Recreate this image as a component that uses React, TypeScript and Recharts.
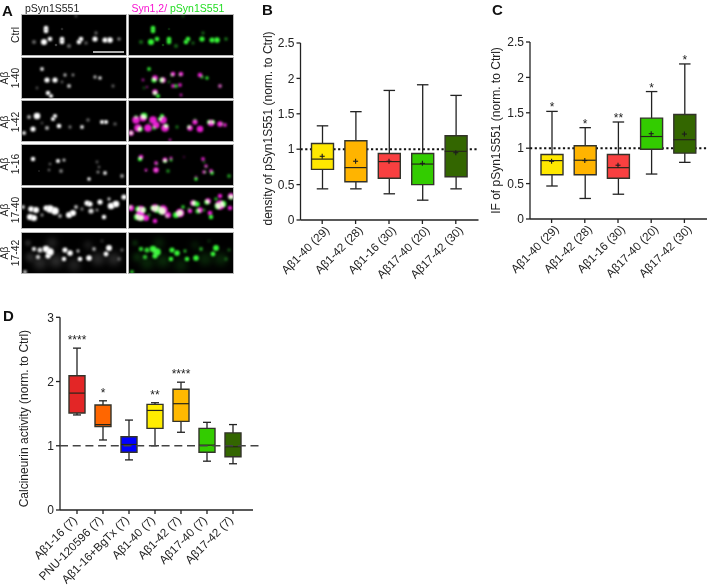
import {
  Bar,
  Cell,
  ComposedChart,
  LabelList,
  Line,
  ReferenceLine,
  Scatter,
  ScatterChart,
  XAxis,
  YAxis,
} from "recharts";

const FONT = "'Liberation Sans', Arial, sans-serif";
const INK = "#222222";

// panel B
const bNames = ["Aβ1-40 (29)", "Aβ1-42 (28)", "Aβ1-16 (30)", "Aβ17-40 (20)", "Aβ17-42 (30)"];
const bMin = [0.44, 0.44, 0.37, 0.28, 0.44];
const bQ1 = [0.715, 0.54, 0.59, 0.5, 0.61];
const bMedian = [0.86, 0.74, 0.825, 0.79, 0.97];
const bQ3 = [1.08, 1.12, 0.94, 0.94, 1.19];
const bMax = [1.33, 1.53, 1.83, 1.91, 1.76];
const bMean = [0.9, 0.83, 0.83, 0.8, 0.95];

// panel C
const cNames = ["Aβ1-40 (29)", "Aβ1-42 (28)", "Aβ1-16 (30)", "Aβ17-40 (20)", "Aβ17-42 (30)"];
const cMin = [0.466, 0.29, 0.35, 0.635, 0.8];
const cQ1 = [0.625, 0.625, 0.575, 0.985, 0.93];
const cMedian = [0.825, 0.83, 0.725, 1.165, 1.12];
const cQ3 = [0.91, 1.035, 0.91, 1.425, 1.475];
const cMax = [1.52, 1.29, 1.37, 1.8, 2.19];
const cMean = [0.815, 0.825, 0.76, 1.205, 1.2];
const cStars = ["*", "*", "**", "*", "*"];

// panel D
const dNames = [
  "Aβ1-16 (7)",
  "PNU-120596 (7)",
  "Aβ1-16+BgTx (7)",
  "Aβ1-40 (7)",
  "Aβ1-42 (7)",
  "Aβ17-40 (7)",
  "Aβ17-42 (7)",
];
const dMin = [1.48, 1.09, 0.78, 1.0, 1.21, 0.76, 0.72];
const dQ1 = [1.51, 1.3, 0.9, 1.27, 1.38, 0.9, 0.83];
const dMedian = [1.82, 1.33, 1.02, 1.55, 1.655, 1.01, 0.985];
const dQ3 = [2.09, 1.635, 1.14, 1.645, 1.88, 1.27, 1.2];
const dMax = [2.52, 1.7, 1.4, 1.67, 1.99, 1.365, 1.33];
const dStars = ["****", "*", "", "**", "****", "", ""];

const fiveColors = ["#FFE800", "#FFB400", "#F94040", "#33CC00", "#336600"];
const sevenColors = ["#E32626", "#FF6600", "#0000FF", "#FFED00", "#FFB900", "#33CC00", "#336600"];

const yTicks25 = [0, 0.5, 1, 1.5, 2, 2.5];
const yTicks3 = [0, 1, 2, 3];

// panel A: puncta in each micrograph, [x, y, radius, brightness]
type Spot = number[];
const ctrlSpots: Spot[] = [
  [24, 13, 2, 1], [24, 16, 2, 1], [22, 27, 2.6, 1], [28, 24, 2, 1], [40, 24, 2, 1], [40, 27, 2, 1], [57, 27, 2, 1], [59, 24, 2, 1], [73, 24, 2.2, 1],
  [83, 25, 2.2, 1], [88, 25, 2.4, 1], [74, 18, 1.4, 0.4], [47, 31, 1.8, 0.4], [12, 27, 1.8, 0.4],
  [97, 24, 1.5, 0.5], [54, 1, 1.2, 0.3], [64, 28, 1.5, 0.35], [34, 30, 1.3, 0.25], [40, 14, 1.3, 0.15],
];
const a140Spots: Spot[] = [
  [20, 11, 1.6, 0.9], [25, 22, 2.2, 1], [33, 22, 2.2, 1], [43, 17, 1.4, 0.7], [51, 17, 1.2, 0.55], [73, 19, 1.4, 0.7],
  [78, 20, 1.5, 0.9], [47, 28, 1.7, 0.75], [26, 35, 1.9, 1], [29, 38, 1.7, 1], [91, 28, 1.4, 0.35], [15, 30, 1.2, 0.3], [40, 24, 1.2, 0.35],
];
const a140Syn: Spot[] = [
  [26, 20, 2.4, 1], [34, 22, 2.4, 1], [44, 16, 2, 1], [52, 16, 2, 1], [71, 17, 2, 1], [44, 28, 1.6, 0.9], [51, 27, 1.6, 0.9],
  [26, 34, 2.4, 1], [14, 22, 1.2, 0.7], [52, 37, 1.2, 0.8], [91, 28, 1.6, 0.8], [18, 29, 1, 0.6],
];
const a142Spots: Spot[] = [
  [15, 15, 2.8, 1], [7, 16, 1.7, 0.65], [33, 15, 1.8, 1], [31, 18, 1.8, 1], [37, 25, 2, 1], [11, 28, 2.2, 1], [25, 27, 1.7, 0.7], [60, 26, 1.6, 0.9],
  [80, 21, 1.8, 1], [84, 21, 1.8, 1], [66, 19, 1.5, 0.4], [2, 32, 1.7, 0.9], [48, 26, 1.4, 0.45], [93, 23, 1.5, 0.35], [20, 22, 1.5, 0.25],
];
const a142Syn: Spot[] = [
  [7, 19, 3.2, 1], [14, 17, 3, 1], [24, 19, 3.2, 1], [34, 19, 3.2, 1], [9, 27, 3.2, 1], [19, 27, 3.2, 1], [36, 27, 3.2, 1], [27, 24, 3, 1],
  [2, 32, 2.4, 1], [61, 27, 2.4, 1], [71, 28, 2.8, 1], [66, 21, 2.2, 1], [82, 22, 2.8, 1], [91, 23, 2.4, 1], [96, 24, 1.6, 0.9], [41, 39, 1.2, 0.8],
];
const a116Spots: Spot[] = [
  [11, 14, 1.9, 1], [36, 16, 1.8, 1], [42, 15, 1.3, 0.8], [28, 19, 1.1, 0.4], [27, 25, 1.1, 0.45], [39, 26, 1.6, 0.5], [67, 34, 1.5, 1],
  [83, 28, 1.6, 0.9], [76, 27, 1.3, 0.55], [75, 17, 1.2, 0.35], [77, 22, 1.1, 0.4], [100, 31, 1.6, 0.6], [17, 26, 1, 0.12],
];
const a116Syn: Spot[] = [
  [12, 12, 2, 1], [36, 15, 2.1, 1], [42, 13, 1.3, 0.9], [27, 25, 2.4, 1], [17, 25, 1.3, 0.9], [27, 18, 1.6, 0.9], [74, 14, 1.6, 0.9],
  [77, 21, 1.5, 0.9], [75, 27, 1.5, 0.9], [82, 26, 1.6, 0.9], [67, 32, 1.3, 0.5], [55, 12, 0.8, 0.4],
];
const a1740Spots: Spot[] = [
  [9, 21, 2.4, 1], [14, 22, 2.6, 1], [8, 29, 2.6, 1], [12, 30, 2.6, 1], [28, 21, 3.2, 1], [33, 23, 3.2, 1], [24, 20, 2.2, 1], [47, 27, 2.6, 1], [51, 25, 2.6, 1],
  [65, 15, 2.2, 1], [68, 16, 2.2, 1], [78, 14, 2.2, 1], [89, 18, 2.8, 1], [94, 16, 2.8, 1],
  [69, 23, 2.2, 0.85], [82, 29, 1.9, 1], [87, 11, 1.4, 0.75], [102, 9, 2.2, 1], [38, 28, 1.6, 0.65], [54, 19, 1.6, 0.75], [20, 27, 1.4, 0.5], [1, 19, 1.6, 0.8],
  [60, 21, 1.4, 0.45], [75, 22, 1.3, 0.55],
];
const a1740Syn: Spot[] = [
  [2, 20, 2.6, 1], [12, 22, 3.6, 1], [11, 28, 4, 1], [26, 20, 3.2, 1], [34, 22, 4, 1], [51, 25, 3.6, 1], [39, 27, 2.6, 1], [26, 33, 2, 1],
  [17, 30, 2.6, 1], [64, 15, 2.4, 1], [79, 13, 2.4, 1], [91, 17, 4, 1], [102, 8, 2.6, 1], [71, 22, 2.4, 1], [81, 25, 2, 1], [91, 8, 1.9, 1],
  [101, 20, 1.9, 1], [61, 23, 1.9, 1],
];
const a1742Spots: Spot[] = [
  [24, 16, 2.8, 1], [28, 19, 3.2, 1], [26, 23, 2.2, 1], [18, 17, 2.2, 0.85], [12, 16, 1.9, 0.85], [16, 24, 1.9, 0.75], [43, 17, 2.2, 1], [48, 20, 2.4, 1], [42, 26, 1.9, 1], [58, 26, 2, 1],
  [67, 25, 2.4, 1], [56, 18, 1.4, 0.7], [72, 16, 1.6, 0.65], [87, 15, 2.5, 1], [84, 21, 2.1, 1], [97, 26, 1.6, 0.3], [100, 17, 1.4, 0.35], [3, 39, 1.6, 0.8],
  [34, 28, 6, 0.2], [18, 30, 6, 0.18], [52, 32, 6, 0.15], [76, 26, 6, 0.18], [92, 26, 6, 0.18], [66, 12, 4, 0.1],
  [8, 24, 4, 0.18], [30, 10, 5, 0.15], [80, 8, 2, 0.12], [6, 10, 3, 0.14],
];
const noSpots: Spot[] = [];

const imageRows = [
  { name: "ctrl", top: 15, spots: ctrlSpots, syn: noSpots },
  { name: "a140", top: 58, spots: a140Spots, syn: a140Syn },
  { name: "a142", top: 101, spots: a142Spots, syn: a142Syn },
  { name: "a116", top: 144.5, spots: a116Spots, syn: a116Syn },
  { name: "a1740", top: 188, spots: a1740Spots, syn: a1740Syn },
  { name: "a1742", top: 232.5, spots: a1742Spots, syn: noSpots },
];

const toSpots = (list: Spot[]) => list.map(([x, y, r, level]) => ({ x, y, r, level }));

function blob(fill: string) {
  return (props: any) => {
    const { r, level } = props.payload;
    const blur = level < 0.3 ? r * 0.6 : 1;
    return (
      <circle
        cx={props.cx}
        cy={props.cy}
        r={level < 0.3 ? r : r * 1.18}
        fill={fill}
        opacity={level}
        style={{ filter: `blur(${blur}px)`, mixBlendMode: "screen" }}
      />
    );
  };
}

function Micrograph({ left, top, layers, scaleBar }: any) {
  return (
    <div style={{ position: "absolute", left, top, width: 104, height: 40, background: "#000", outline: "1px solid #b8b8b8", overflow: "hidden" }}>
      <ScatterChart width={104} height={40} margin={{ top: 0, right: 0, bottom: 0, left: 0 }}>
        <XAxis type="number" dataKey="x" domain={[0, 104]} hide />
        <YAxis type="number" dataKey="y" domain={[0, 40]} reversed hide />
        {layers.map((l: any) => (
          <Scatter key={l.fill} data={toSpots(l.spots)} shape={blob(l.fill)} isAnimationActive={false} />
        ))}
        {scaleBar && (
          <ReferenceLine
            segment={[{ x: 71, y: 37 }, { x: 102, y: 37 }]}
            stroke="#d8d8d8"
            strokeWidth={1.6}
          />
        )}
      </ScatterChart>
    </div>
  );
}

function buildTable(names: string[], min: number[], q1: number[], median: number[], q3: number[], max: number[], mean?: number[], stars?: string[]) {
  return names.map((name, i) => ({
    name,
    whisker: [min[i], max[i]],
    box: [q1[i], q3[i]],
    median: median[i],
    mean: mean ? mean[i] : null,
    star: stars ? stars[i] : "",
  }));
}

function BoxChart({ left, top, width, height, margin, axisWidth, axisHeight, pad, data, colors, ticks, domainMax, yLabel, labelDy, boxSize, capSize, lineDash, lineWidth, lineExtra, lineColor, lineZ, starOffset, tickShift }: any) {
  const whiskerShape = (p: any) => {
    const cx = p.x + p.width / 2;
    return (
      <g stroke={INK} strokeWidth={1.3}>
        <line x1={cx} x2={cx} y1={p.y} y2={p.y + p.height} />
        <line x1={cx - capSize / 2} x2={cx + capSize / 2} y1={p.y} y2={p.y} />
        <line x1={cx - capSize / 2} x2={cx + capSize / 2} y1={p.y + p.height} y2={p.y + p.height} />
      </g>
    );
  };
  const medianDot = (p: any) => (
    <line key={p.index} x1={p.cx - boxSize / 2} x2={p.cx + boxSize / 2} y1={p.cy} y2={p.cy} stroke="#26261a" strokeWidth={1.2} />
  );
  const meanDot = (p: any) =>
    p.value == null ? <g key={p.index} /> : (
      <g key={p.index} stroke="#1c1c1c" strokeWidth={1.1}>
        <line x1={p.cx - 2.5} x2={p.cx + 2.5} y1={p.cy} y2={p.cy} />
        <line x1={p.cx} x2={p.cx} y1={p.cy - 2.5} y2={p.cy + 2.5} />
      </g>
    );
  return (
    <div style={{ position: "absolute", left, top }}>
      <ComposedChart width={width} height={height} data={data} margin={margin} barGap={-boxSize} style={{ fontFamily: FONT }}>
        <XAxis
          dataKey="name"
          interval={0}
          height={axisHeight}
          padding={pad}
          angle={-45}
          textAnchor="end"
          tickSize={4}
          tick={{ fill: INK, fontSize: 11.7, dx: tickShift[0], dy: tickShift[1] }}
          axisLine={{ stroke: INK, strokeWidth: 1.3 }}
          tickLine={{ stroke: INK, strokeWidth: 1.3 }}
        />
        <YAxis
          width={axisWidth}
          domain={[0, domainMax]}
          ticks={ticks}
          interval={0}
          tickSize={4}
          tick={{ fill: INK, fontSize: 12 }}
          axisLine={{ stroke: INK, strokeWidth: 1.3 }}
          tickLine={{ stroke: INK, strokeWidth: 1.3 }}
          label={{ value: yLabel, angle: -90, position: "insideLeft", dx: labelDy[0], dy: labelDy[1], fill: INK, fontSize: 12, style: { textAnchor: "middle" } }}
        />
        <ReferenceLine
          y={1}
          zIndex={lineZ}
          shape={(p: any) => (
            <line x1={p.x1} x2={p.x2 + lineExtra} y1={p.y1} y2={p.y2} stroke={lineColor} strokeWidth={lineWidth} strokeDasharray={lineDash} />
          )}
        />
        <Bar dataKey="whisker" barSize={boxSize} shape={whiskerShape} isAnimationActive={false}>
          <LabelList dataKey="star" position="top" offset={starOffset} fill={INK} fontSize={12} />
        </Bar>
        <Bar dataKey="box" barSize={boxSize} stroke="#33332a" strokeWidth={1.4} isAnimationActive={false}>
          {data.map((d: any, i: number) => (
            <Cell key={d.name} fill={colors[i % colors.length]} />
          ))}
        </Bar>
        <Line dataKey="median" stroke="none" dot={medianDot} activeDot={false} isAnimationActive={false} />
        <Line dataKey="mean" stroke="none" dot={meanDot} activeDot={false} isAnimationActive={false} />
      </ComposedChart>
    </div>
  );
}

const letterStyle: any = { position: "absolute", fontFamily: FONT, fontWeight: 700, fontSize: 15, lineHeight: "15px", color: "#111" };

function RowLabel({ lines, y }: { lines: string[]; y: number }) {
  const xs = lines.length === 1 ? [19] : [7.5, 18.5];
  return (
    <>
      {lines.map((t, i) => (
        <text key={t} transform={`translate(${xs[i]} ${y}) rotate(-90)`} textAnchor="middle" fontSize={10.3} fill={INK} fontFamily={FONT}>
          {t}
        </text>
      ))}
    </>
  );
}

export default function App() {
  const bData = buildTable(bNames, bMin, bQ1, bMedian, bQ3, bMax, bMean);
  const cData = buildTable(cNames, cMin, cQ1, cMedian, cQ3, cMax, cMean, cStars);
  const dData = buildTable(dNames, dMin, dQ1, dMedian, dQ3, dMax, undefined, dStars);

  return (
    <div style={{ position: "absolute", left: 0, top: 0, width: 707, height: 586, background: "#fff", overflow: "hidden" }}>
      <div style={{ ...letterStyle, left: 2, top: 3 }}>A</div>
      <div style={{ ...letterStyle, left: 262, top: 2 }}>B</div>
      <div style={{ ...letterStyle, left: 492, top: 2 }}>C</div>
      <div style={{ ...letterStyle, left: 3, top: 308 }}>D</div>

      <svg width={240} height={300} style={{ position: "absolute", left: 0, top: 0 }}>
        <text x={25} y={12} fontSize={10.5} fill={INK} fontFamily={FONT}>pSyn1S551</text>
        <text x={131.5} y={12} fontSize={10.5} fontFamily={FONT}>
          <tspan fill="#f810d0">Syn1,2/ </tspan>
          <tspan fill="#22dd22">pSyn1S551</tspan>
        </text>
        <RowLabel lines={["Ctrl"]} y={35} />
        <RowLabel lines={["Aβ", "1-40"]} y={78} />
        <RowLabel lines={["Aβ", "1-42"]} y={122} />
        <RowLabel lines={["Aβ", "1-16"]} y={164} />
        <RowLabel lines={["Aβ", "17-40"]} y={210} />
        <RowLabel lines={["Aβ", "17-42"]} y={253} />
      </svg>

      {imageRows.map((row, i) => (
        <div key={row.name}>
          <Micrograph left={22} top={row.top} layers={[{ fill: "#ffffff", spots: row.spots }]} scaleBar={i === 0} />
          <Micrograph left={129} top={row.top} layers={[{ fill: "#e81ed0", spots: row.syn }, { fill: "#34f534", spots: row.spots }]} />
        </div>
      ))}

      <BoxChart
        left={240} top={30} width={240} height={260}
        margin={{ top: 13, right: 1.5, bottom: 0, left: 0 }}
        axisWidth={60.5} axisHeight={70} pad={{ left: 5, right: 6 }}
        data={bData} colors={fiveColors} ticks={yTicks25} domainMax={2.5}
        yLabel="density of pSyn1S551 (norm. to Ctrl)" labelDy={[23, -3]}
        boxSize={22} capSize={11.5} lineDash="2.2 2.5" lineWidth={2} lineExtra={0} lineColor="#111" lineZ={100}
        starOffset={3} tickShift={[2, -1]}
      />
      <BoxChart
        left={470} top={30} width={237} height={259}
        margin={{ top: 12, right: 0, bottom: 0, left: 0 }}
        axisWidth={60} axisHeight={70} pad={{ left: 5, right: 6 }}
        data={cData} colors={fiveColors} ticks={yTicks25} domainMax={2.5}
        yLabel="IF of pSyn1S551 (norm. to Ctrl)" labelDy={[21, 0]}
        boxSize={22} capSize={11.5} lineDash="2.2 2.5" lineWidth={2} lineExtra={0} lineColor="#111" lineZ={100}
        starOffset={0} tickShift={[2, -1]}
      />
      <BoxChart
        left={0} top={300} width={270} height={286}
        margin={{ top: 17.3, right: 17, bottom: 0, left: 0 }}
        axisWidth={60} axisHeight={76} pad={{ left: 4, right: 7 }}
        data={dData} colors={sevenColors} ticks={yTicks3} domainMax={3}
        yLabel="Calcineurin activity (norm. to Ctrl)" labelDy={[19, 5]}
        boxSize={16} capSize={8} lineDash="8 4.7" lineWidth={1.5} lineExtra={7} lineColor="#444" lineZ={700}
        starOffset={4} tickShift={[-5, -1]}
      />
    </div>
  );
}
